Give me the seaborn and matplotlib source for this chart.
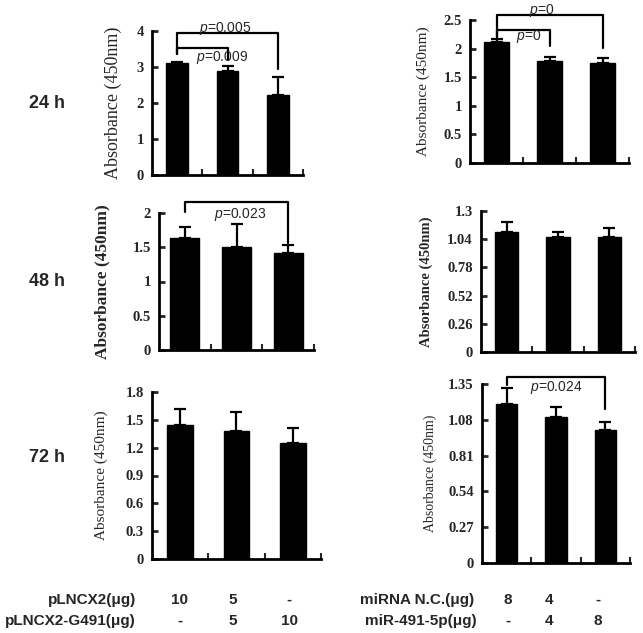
import numpy as np
import pandas as pd
import matplotlib
matplotlib.use('Agg')
import matplotlib.pyplot as plt
import seaborn as sns

sns.set_style('white')
plt.rcParams['font.family'] = ['Liberation Sans', 'DejaVu Sans']
plt.rcParams['mathtext.fontset'] = 'custom'
plt.rcParams['mathtext.it'] = 'Liberation Sans:italic'
plt.rcParams['mathtext.rm'] = 'Liberation Sans'

# ---- data ----
groups = ['A', 'B', 'C']

# left column: pLNCX2 / pLNCX2-G491
mean_24_l = [3.11, 2.88, 2.23]
err_24_l = [0.04, 0.14, 0.49]
mean_48_l = [1.64, 1.51, 1.42]
err_48_l = [0.15, 0.33, 0.11]
mean_72_l = [1.44, 1.38, 1.25]
err_72_l = [0.18, 0.20, 0.16]

# right column: miRNA N.C. / miR-491-5p
mean_24_r = [2.11, 1.78, 1.74]
err_24_r = [0.06, 0.08, 0.10]
mean_48_r = [1.11, 1.06, 1.06]
err_48_r = [0.09, 0.05, 0.08]
mean_72_r = [1.20, 1.10, 1.00]
err_72_r = [0.12, 0.08, 0.06]

yt_24_l = ['0', '1', '2', '3', '4']
yt_48_l = ['0', '0.5', '1', '1.5', '2']
yt_72_l = ['0', '0.3', '0.6', '0.9', '1.2', '1.5', '1.8']
yt_24_r = ['0', '0.5', '1', '1.5', '2', '2.5']
yt_48_r = ['0', '0.26', '0.52', '0.78', '1.04', '1.3']
yt_72_r = ['0', '0.27', '0.54', '0.81', '1.08', '1.35']

# significance brackets: (bar i, bar j, top, left leg end, right leg end, text, text x, text y)
br_24_l = [(0, 2, 3.95, 3.35, 2.95, '$p$=0.005', 0.96, 4.07),
           (0, 1, 3.52, 3.35, 3.19, '$p$=0.009', 0.9, 3.27)]
br_48_l = [(0, 2, 2.16, 2.01, 1.56, '$p$=0.023', 1.08, 1.98)]
br_24_r = [(0, 2, 2.59, 2.21, 2.01, '$p$=0', 0.85, 2.67),
           (0, 1, 2.33, 2.21, 2.04, '$p$=0', 0.6, 2.21)]
br_72_r = [(0, 2, 1.405, 1.345, 1.165, '$p$=0.024', 1.0, 1.32)]

row_labels = ['24 h', '48 h', '72 h']
left_names = ['pLNCX2(\u03bcg)', 'pLNCX2-G491(\u03bcg)']
left_vals = [['10', '5', '-'], ['-', '5', '10']]
right_names = ['miRNA N.C.(\u03bcg)', 'miR-491-5p(\u03bcg)']
right_vals = [['8', '4', '-'], ['-', '4', '8']]

W, H = 643, 633
fig = plt.figure(figsize=(W / 100, H / 100), dpi=100)


def px_axes(x0, x1, y0, y1):
    return fig.add_axes([x0 / W, 1 - y1 / H, (x1 - x0) / W, (y1 - y0) / H])


def panel(rect, means, errs, yt, bw, lab_size, lab_bold, lab_dist, brackets):
    ax = px_axes(*rect)
    df = pd.DataFrame({'group': groups, 'value': means})
    sns.barplot(data=df, x='group', y='value', color='black', width=bw,
                errorbar=None, ax=ax, saturation=1)
    for p in ax.patches:
        p.set_edgecolor('black')
    ax.errorbar(range(3), means, yerr=[np.zeros(3), errs], fmt='none',
                ecolor='black', elinewidth=1.6, capsize=4, capthick=1.6)
    yv = [float(t) for t in yt]
    ax.set_ylim(0, yv[-1])
    ax.set_xlim(-0.5, 2.5)
    ax.set_yticks(yv)
    ax.set_yticklabels(yt, family='Liberation Serif', fontweight='bold', fontsize=10.5)
    ax.set_xticks([0.5, 1.5, 2.5])
    ax.set_xticklabels([])
    ax.set_xlabel('')
    ax.tick_params(axis='y', direction='in', length=4, width=2, pad=6, left=True)
    ax.tick_params(axis='x', direction='in', length=4, width=1.5, bottom=True)
    sns.despine(ax=ax)
    for s in ['left', 'bottom']:
        ax.spines[s].set_linewidth(2)
        ax.spines[s].set_color('black')
    ax.set_ylabel('Absorbance (450nm)', family='Liberation Serif', fontsize=lab_size,
                  fontweight='bold' if lab_bold else 'normal')
    ax.yaxis.set_label_coords(-lab_dist / (rect[1] - rect[0]), 0.5)
    for i, j, top, le, re, txt, tx, ty in brackets:
        ax.plot([i, i, j, j], [le, top, top, re], color='black', lw=1.6, clip_on=False)
        ax.text(tx, ty, txt, ha='center', va='center', fontsize=10, clip_on=False)
    return ax


panel((152, 303, 31, 175), mean_24_l, err_24_l, yt_24_l, 0.43, 13, False, 30, br_24_l)
panel((470, 629, 20, 163), mean_24_r, err_24_r, yt_24_r, 0.47, 11, False, 40, br_24_r)
panel((159, 314, 213, 350), mean_48_l, err_48_l, yt_48_l, 0.56, 12.5, True, 49, br_48_l)
panel((481, 635, 211, 352), mean_48_r, err_48_r, yt_48_r, 0.45, 10.5, True, 48, [])
panel((152, 321, 392, 559), mean_72_l, err_72_l, yt_72_l, 0.45, 11, False, 44, [])
panel((482, 630, 384, 563), mean_72_r, err_72_r, yt_72_r, 0.43, 10, False, 45, br_72_r)

for lab, y in zip(row_labels, [103, 282, 458]):
    fig.text(47 / W, 1 - y / H, lab, ha='center', va='center', fontsize=13, fontweight='bold')

for k, y in enumerate([600, 621]):
    fig.text(136 / W, 1 - y / H, left_names[k], ha='right', va='center', fontsize=11, fontweight='bold')
    for v, x in zip(left_vals[k], [180, 233, 289]):
        fig.text(x / W, 1 - y / H, v, ha='center', va='center', fontsize=11, fontweight='bold')
    fig.text([474, 477][k] / W, 1 - y / H, right_names[k], ha='right', va='center', fontsize=11, fontweight='bold')
    for v, x in zip(right_vals[k], [508, 549, 598]):
        fig.text(x / W, 1 - y / H, v, ha='center', va='center', fontsize=11, fontweight='bold')

fig.savefig('out.png', dpi=100, facecolor='white')
